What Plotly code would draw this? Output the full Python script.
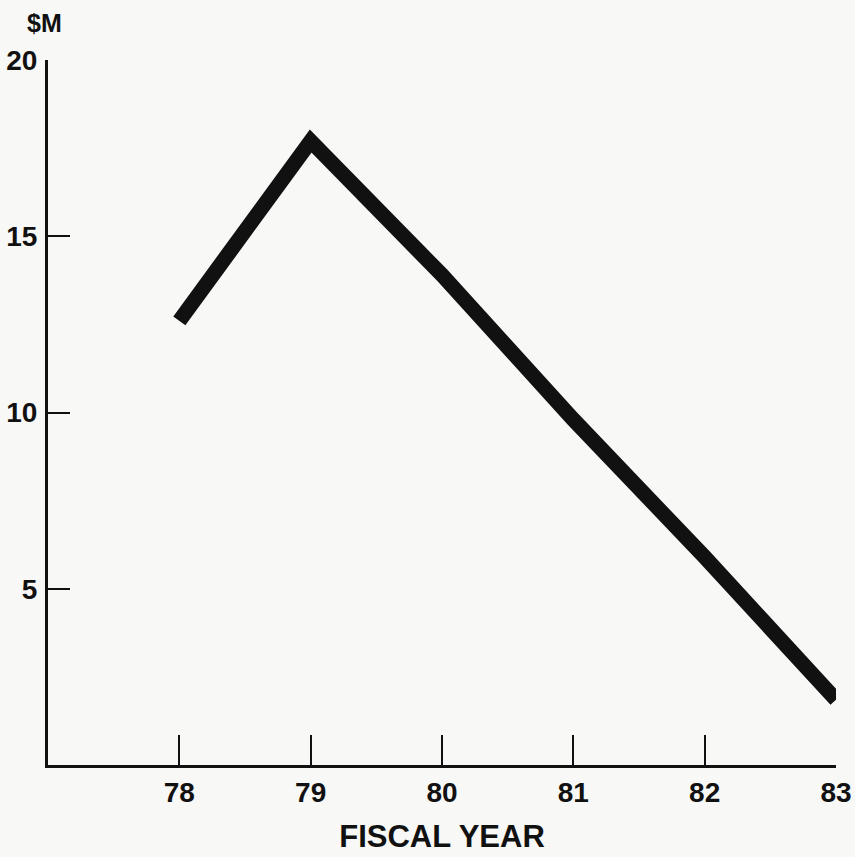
import plotly.graph_objects as go

# Data
fiscal_years = [78, 79, 80, 81, 82, 83]
funding_musd = [12.6, 17.7, 13.9, 9.8, 5.9, 1.85]

x_tick_vals = [78, 79, 80, 81, 82, 83]
x_tick_text = ["78", "79", "80", "81", "82", "83"]
y_tick_vals = [5, 10, 15, 20]
y_tick_text = ["5", "10", "15", "20"]

FONT = "Liberation Sans Narrow, Arial Narrow, Liberation Sans, sans-serif"
INK = "#111111"
BG = "#f8f8f6"

fig = go.Figure()
fig.add_trace(go.Scatter(
    x=fiscal_years, y=funding_musd, mode="lines",
    line=dict(color=INK, width=15),
    hoverinfo="skip", showlegend=False,
))

fig.update_layout(
    width=855, height=857, autosize=False,
    margin=dict(l=48, r=19, t=60, b=92),
    paper_bgcolor=BG, plot_bgcolor=BG,
    font=dict(family=FONT, color=INK, size=28, weight="bold"),
    xaxis=dict(
        range=[77, 83], tickmode="array",
        tickvals=x_tick_vals, ticktext=x_tick_text,
        showgrid=False, zeroline=False, automargin=False,
        showline=True, linecolor=INK, linewidth=3,
        ticks="inside", ticklen=30, tickwidth=2, tickcolor=INK,
        ticklabelstandoff=0, ticklabeloverflow="allow",
        tickfont=dict(family=FONT, size=28, color=INK, weight="bold"),
        title=dict(text="FISCAL YEAR", standoff=19,
                   font=dict(family=FONT, size=31, color=INK, weight="bold")),
    ),
    yaxis=dict(
        range=[0, 20], tickmode="array",
        tickvals=y_tick_vals, ticktext=y_tick_text,
        showgrid=False, zeroline=False, automargin=False,
        showline=True, linecolor=INK, linewidth=3,
        ticks="inside", ticklen=22, tickwidth=2, tickcolor=INK,
        ticklabelstandoff=2, ticklabeloverflow="allow",
        tickfont=dict(family=FONT, size=28, color=INK, weight="bold"),
    ),
    annotations=[dict(
        text="$M", xref="paper", yref="paper", x=-0.004, y=1.0,
        yshift=37, xanchor="center", yanchor="middle", showarrow=False,
        font=dict(family=FONT, size=25, color=INK, weight="bold"),
    )],
)

# remove the browser's default 8px body margin so the figure fills the window
fig.write_html("out.html", config={"displayModeBar": False},
               post_script="document.body.style.margin='0';")
